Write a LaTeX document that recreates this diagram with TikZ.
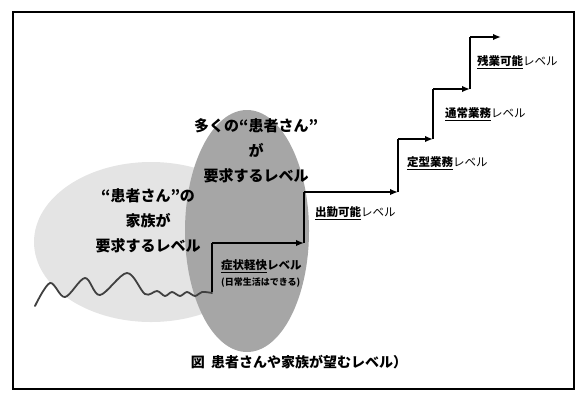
\documentclass[tikz,border=0pt]{standalone}
\usepackage{fontspec}
\newfontfamily\cjk{Noto Sans CJK JP}
\usetikzlibrary{arrows.meta}
\definecolor{lightblob}{HTML}{E4E4E4}
\definecolor{darkblob}{HTML}{A6A6A6}
\definecolor{wavecol}{HTML}{404040}
\tikzset{
  stair/.style={line width=1.6pt, black},
  stairarrow/.style={stair, -{Latex[length=8pt,width=6.5pt]}},
  blobtext/.style={font=\cjk\bfseries\fontsize{15}{25}\selectfont, align=center, inner sep=0pt},
  steplabel/.style={font=\cjk\fontsize{11.5}{13}\selectfont, anchor=west, inner sep=0pt},
  sublabel/.style={font=\cjk\bfseries\fontsize{9}{11}\selectfont, anchor=west, inner sep=0pt},
}
\newcommand{\lvl}[1]{\underline{\bfseries #1}レベル}
\begin{document}
\begin{tikzpicture}[x=1pt,y=-1pt]
\useasboundingbox (0,0) rectangle (580,392);
% frame
\draw[line width=2.6pt] (13,12) rectangle (574,389);
% blobs
\fill[lightblob] (151,242) ellipse [x radius=117, y radius=80];
\fill[darkblob] (247,231) ellipse [x radius=62, y radius=121];
% blob texts
\node[blobtext] (fam) at (148,221) {“患者さん”の\\家族が\\要求するレベル};
\node[blobtext] (many) at (256,151) {多くの“患者さん”\\が\\要求するレベル};
% stair coordinates
\coordinate (w) at (212,292);
\coordinate (a0) at (212,243);
\coordinate (a1) at (304,243);
\coordinate (b0) at (304,192);
\coordinate (b1) at (398,192);
\coordinate (c0) at (398,139);
\coordinate (c1) at (433,139);
\coordinate (d0) at (433,89);
\coordinate (d1) at (470,89);
\coordinate (e0) at (470,37);
\coordinate (e1) at (501,37);
% wave
\draw[wavecol, line width=1.8pt, line cap=round] plot[smooth, tension=0.55] coordinates {
 (35,306) (50,283) (65,297) (85,278) (100,295) (127,273) (145,294)
 (157,291) (165,296) (172,292) (180,296) (187,292) (195,296) (202,292) (212,293)};
% stairs
\draw[stair] (w) -- (a0);
\draw[stairarrow] (a0) -- (a1);
\draw[stair] (a1) -- (b0);
\draw[stairarrow] (b0) -- (b1);
\draw[stair] (b1) -- (c0);
\draw[stairarrow] (c0) -- (c1);
\draw[stair] (c1) -- (d0);
\draw[stairarrow] (d0) -- (d1);
\draw[stair] (d1) -- (e0);
\draw[stairarrow] (e0) -- (e1);
% step labels
\node[steplabel] (l1) at (221,266) {\underline{\bfseries 症状軽快}{\bfseries レベル}};
\node[sublabel] (l1s) at (221,283) {(日常生活はできる)};
\node[steplabel] (l2) at (315,213) {\lvl{出勤可能}};
\node[steplabel] (l3) at (407,163) {\lvl{定型業務}};
\node[steplabel] (l4) at (445,114) {\lvl{通常業務}};
\node[steplabel] (l5) at (477,62) {\lvl{残業可能}};
% caption
\node[font=\cjk\bfseries\fontsize{14}{16}\selectfont, inner sep=0pt] (cap) at (299,362) {図\ \ 患者さんや家族が望むレベル）};
\end{tikzpicture}
\end{document}
